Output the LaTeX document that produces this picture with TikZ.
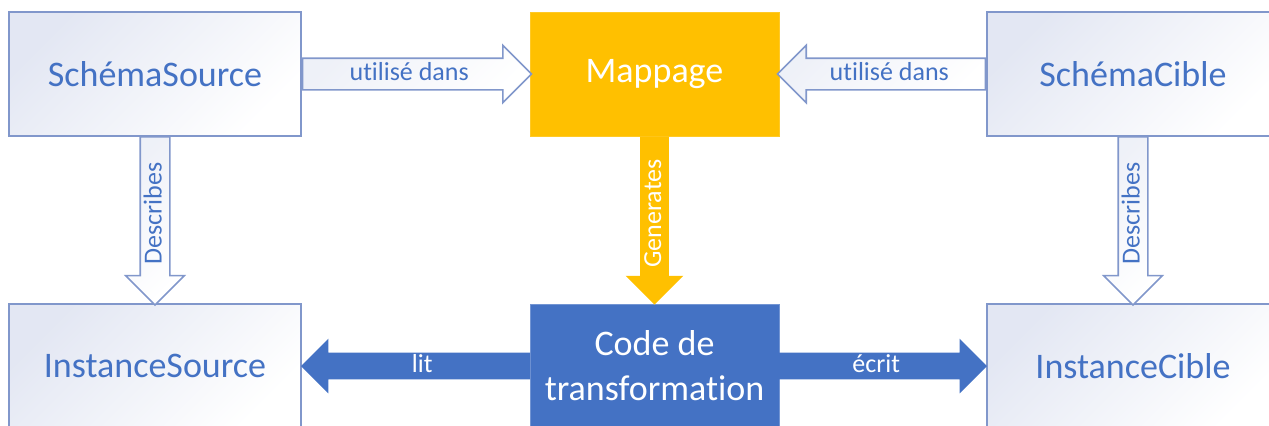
\documentclass[tikz,border=0pt]{standalone}
\usepackage{fontspec}
\setmainfont{Carlito}[Ligatures=NoCommon]
\usetikzlibrary{shapes.arrows}

\definecolor{boxline}{HTML}{8197CB}
\definecolor{boxtop}{HTML}{E3E7F3}
\definecolor{ink}{HTML}{4472C4}
\definecolor{gold}{HTML}{FFC000}
\definecolor{steel}{HTML}{4472C4}

\begin{document}
\begin{tikzpicture}[x=0.5pt,y=-0.5pt,
    box/.style={rectangle,minimum width=146pt,minimum height=62pt,inner sep=0pt,
      align=center,font=\fontsize{18}{22.5}\selectfont},
    pale/.style={box,draw=boxline,line width=0.8pt,top color=boxtop,bottom color=white,
      shading angle=45,text=ink},
    solid/.style={box,minimum width=124.5pt,text=white},
    link/.style={single arrow,single arrow tip angle=90,inner xsep=0pt,
      text height=9.5pt,text depth=3pt,font=\fontsize{13}{13}\selectfont},
    hollow/.style={link,draw=boxline,line width=0.8pt,top color=boxtop!60!white,
      bottom color=white,shading angle=45,text=ink},
    ahead/.style={xshift=-3.25pt},
    back/.style={xshift=3.25pt,shape border rotate=180},
    uses/.style={hollow,inner ysep=1.25pt,single arrow head extend=6.5pt},
    down/.style={inner ysep=0.75pt,single arrow head extend=7.25pt,minimum height=84pt,
      yshift=3.25pt,rotate=90,shape border rotate=180},
    describes/.style={hollow,down},
    generates/.style={link,down,fill=gold,text=white},
    flow/.style={link,fill=steel,text=white,inner ysep=0.25pt,single arrow head extend=7pt}]

  \useasboundingbox (0,0) rectangle (1269,425);

  \node[pale] (ss) at (155,74) {SchémaSource};
  \node[solid,fill=gold,draw=gold!85!white] (map) at (654.5,74) {Mappage};
  \node[pale] (sc) at (1133,74) {SchémaCible};
  \node[pale] (is) at (155,366) {InstanceSource};
  \node[solid,fill=steel,draw=steel!75!white] (ct) at (654.5,366) {Code de\\transformation};
  \node[pale] (ic) at (1133,366) {InstanceCible};

  % top row
  \path (ss.east) -- node[uses,ahead,minimum height=114.5pt] {utilisé dans} (map.west);
  \path (sc.west) -- node[uses,back,minimum height=104pt] {utilisé dans} (map.east);

  % downwards
  \path (ss.south) -- node[describes] {Describes} (is.north);
  \path (map.south) -- node[generates] {Generates} (ct.north);
  \path (sc.south) -- node[describes] {Describes} (ic.north);

  % bottom row
  \path (ct.west) -- node[flow,back,minimum height=114.5pt] {lit} (is.east);
  \path (ct.east) -- node[flow,ahead,minimum height=104pt] {écrit} (ic.west);

\end{tikzpicture}
\end{document}
